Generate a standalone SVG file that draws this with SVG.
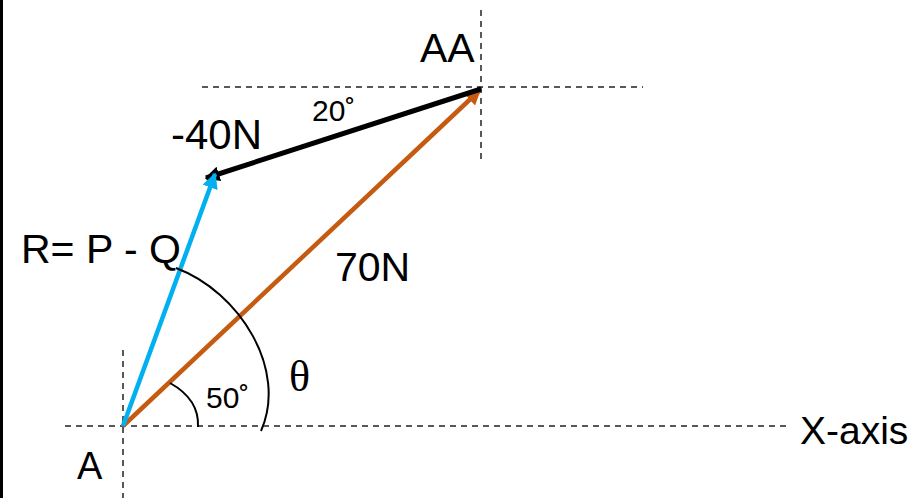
<svg xmlns="http://www.w3.org/2000/svg" width="919" height="498" viewBox="0 0 919 498">
<defs>
<style>
.dash{stroke:#222;stroke-width:1.5;stroke-dasharray:6,5;fill:none}
.t{font-family:"Liberation Sans",Arial,sans-serif;fill:#000}
.arc{stroke:#000;stroke-width:2;fill:none}
</style>
<marker id="mo" viewBox="0 0 10 10" refX="9" refY="5" markerWidth="3.5" markerHeight="3.5" orient="auto"><path d="M0,0 L10,5 L0,10 z" fill="#C55A11"/></marker>
<marker id="mk" viewBox="0 0 10 10" refX="9" refY="5" markerWidth="3" markerHeight="3" orient="auto"><path d="M0,0 L10,5 L0,10 z" fill="#000"/></marker>
<marker id="mb" viewBox="0 0 10 10" refX="9" refY="5" markerWidth="3.5" markerHeight="3.5" orient="auto"><path d="M0,0 L10,5 L0,10 z" fill="#00B0F0"/></marker>
</defs>
<rect width="919" height="498" fill="#fff"/>
<line x1="1.5" y1="0" x2="1.5" y2="498" stroke="#000" stroke-width="3"/>
<g id="axes">
<line class="dash" x1="123" y1="350" x2="123" y2="498"/>
<line class="dash" x1="65" y1="426" x2="790" y2="426"/>
<line class="dash" x1="481" y1="10" x2="481" y2="160"/>
<line class="dash" x1="202" y1="87" x2="643" y2="87"/>
</g>
<g id="connectors">
<line x1="123" y1="426" x2="480" y2="90" stroke="#C55A11" stroke-width="4.5" marker-end="url(#mo)"/>
<line x1="481" y1="89" x2="206" y2="178" stroke="#000" stroke-width="5" marker-end="url(#mk)"/>
<line x1="123" y1="426" x2="215" y2="174" stroke="#00B0F0" stroke-width="4.5" marker-end="url(#mb)"/>
<path class="arc" d="M170,383 C188,393 199,408 198,427"/>
<path class="arc" d="M176,268 C240,292 288,370 261,431"/>
</g>
<g id="labels">
<text class="t" x="420" y="62" font-size="41">AA</text>
<text class="t" x="312" y="121" font-size="30">20˚</text>
<text class="t" x="171" y="149" font-size="42">-40N</text>
<text class="t" x="21" y="263" font-size="41">R= P - Q</text>
<text class="t" x="335" y="281" font-size="41">70N</text>
<text x="289" y="391" font-size="44" font-family="'Liberation Serif','Times New Roman',serif">θ</text>
<text class="t" x="206" y="408" font-size="30">50˚</text>
<text class="t" x="77" y="479" font-size="38">A</text>
<text class="t" x="800" y="444" font-size="39">X-axis</text>
</g>
</svg>
